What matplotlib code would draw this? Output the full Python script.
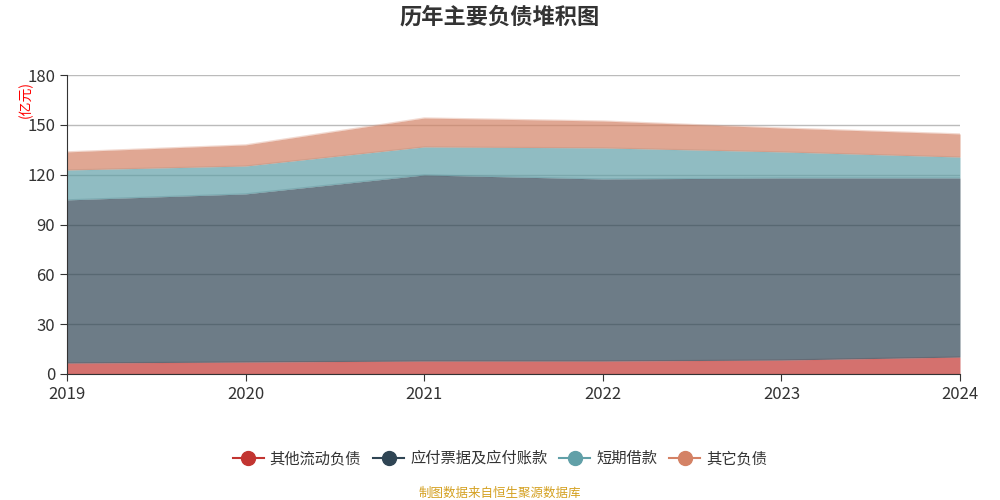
import matplotlib
matplotlib.use("Agg")
import matplotlib.pyplot as plt
from matplotlib.lines import Line2D

plt.rcParams["font.family"] = ["Noto Sans CJK SC", "DejaVu Sans"]

years = ["2019", "2020", "2021", "2022", "2023", "2024"]
other_current = [6.6, 7.2, 7.8, 7.8, 8.4, 10.2]
payables = [98.2, 101.2, 112.0, 109.6, 109.6, 107.8]
short_loans = [18.0, 16.8, 16.9, 18.7, 15.7, 12.6]
other_liab = [10.9, 12.7, 17.4, 16.2, 14.4, 13.9]

names = ["其他流动负债", "应付票据及应付账款", "短期借款", "其它负债"]
colors = ["#c23531", "#2f4554", "#61a0a8", "#d48265"]
series = [other_current, payables, short_loans, other_liab]

fig = plt.figure(figsize=(10, 5), dpi=100)
ax = fig.add_axes([0.067, 0.252, 0.893, 0.598])

x = list(range(len(years)))
base = [0.0] * len(years)
for vals, c in zip(series, colors):
    top = [b + v for b, v in zip(base, vals)]
    ax.fill_between(x, base, top, color=c, alpha=0.7, linewidth=0, zorder=2)
    ax.plot(x, top, color=c, alpha=0.3, linewidth=1, zorder=2)
    base = top

ax.set_xlim(0, len(years) - 1)
ax.set_ylim(0, 180)
ax.set_yticks(range(0, 181, 30))
ax.set_xticks(x)
ax.set_xticklabels(years)
ax.grid(axis="y", color="#bbbbbb", linewidth=1, zorder=1)
ax.set_axisbelow(True)
for s in ["top", "right"]:
    ax.spines[s].set_visible(False)
ax.spines["left"].set_color("#333333")
ax.spines["bottom"].set_color("#333333")
ax.spines["left"].set_zorder(4)
ax.spines["bottom"].set_zorder(4)
ax.tick_params(colors="#333333", labelsize=12, length=5)

fig.text(0.026, 0.8, "(亿元)", color="red", fontsize=10, rotation=90, ha="center", va="center")
fig.text(0.5, 0.965, "历年主要负债堆积图", fontsize=16, fontweight="bold", ha="center", va="center", color="#333333")

handles = [Line2D([0], [0], color=c, marker="o", markersize=10, linewidth=1.5) for c in colors]
fig.legend(handles, names, loc="center", bbox_to_anchor=(0.5, 0.083), ncol=4, frameon=False,
           fontsize=11, handlelength=2.0, columnspacing=0.8, handletextpad=0.4, labelcolor="#333333")

fig.text(0.5, 0.014, "制图数据来自恒生聚源数据库", color="#d4a020", fontsize=9, ha="center", va="center")

fig.savefig("out.png", dpi=100)
